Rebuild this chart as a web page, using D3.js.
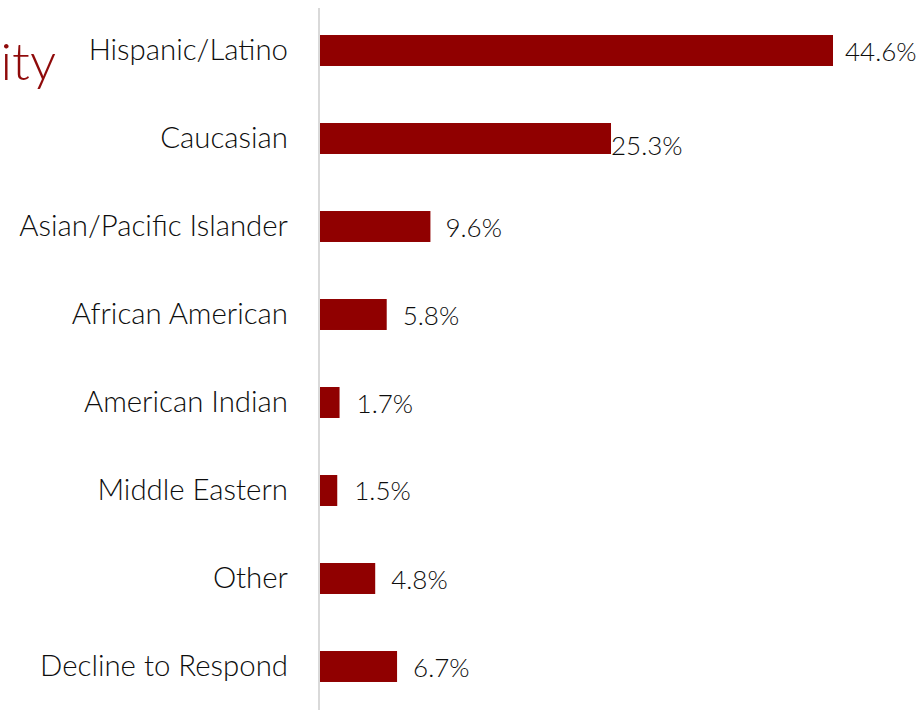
<!DOCTYPE html>
<html>
<head>
<meta charset="utf-8">
<script src="https://cdn.jsdelivr.net/npm/d3@7"></script>
<style>
  html, body { margin: 0; padding: 0; background: #fff; overflow: hidden; }
  svg { display: block; }
</style>
</head>
<body>
<svg id="chart" width="922" height="710"></svg>
<script>
// ---- data ----
const categories = ["Hispanic/Latino", "Caucasian", "Asian/Pacific Islander", "African American",
                    "American Indian", "Middle Eastern", "Other", "Decline to Respond"];
const values = [44.6, 25.3, 9.6, 5.8, 1.7, 1.5, 4.8, 6.7];
const valueLabels = ["44.6%", "25.3%", "9.6%", "5.8%", "1.7%", "1.5%", "4.8%", "6.7%"];
const titleText = "Ethnicity";

// ---- layout (label nudges, px) ----
const labelDx = [12, 0, 15, 16, 17, 17, 16, 16];
const labelDy = [1.5, 8, 2, 2, 2, 1, 2, 2];

const W = 922, H = 710;
const svg = d3.select("#chart");
const x0 = 320;
const x = d3.scaleLinear().domain([0, 44.6]).range([x0, 833]);
const y = d3.scaleBand().domain(categories).range([6.5, 710.5]).paddingInner(0.648).paddingOuter(0.324);

const barColor = "#900000";
const textColor = "#0d0d0d";
const font = "Lato, 'Open Sans', sans-serif";

// title fragment (cut off at left edge, as in the reference)
svg.append("text")
  .attr("x", 56).attr("y", 80)
  .attr("text-anchor", "end")
  .attr("font-family", font)
  .attr("font-size", 52)
  .attr("font-weight", 300)
  .attr("fill", "#8f0a0a")
  .text(titleText);

// bars
svg.append("g").selectAll("rect")
  .data(values)
  .join("rect")
  .attr("x", x(0))
  .attr("y", (d, i) => y(categories[i]))
  .attr("width", d => x(d) - x(0))
  .attr("height", y.bandwidth())
  .attr("fill", barColor);

// axis line
svg.append("line")
  .attr("x1", 319).attr("x2", 319)
  .attr("y1", 8).attr("y2", H)
  .attr("stroke", "#d9d9d9").attr("stroke-width", 2);

// category labels
svg.append("g").selectAll("text")
  .data(categories)
  .join("text")
  .attr("x", 288)
  .attr("y", d => y(d) + y.bandwidth() / 2)
  .attr("dy", "0.34em")
  .attr("text-anchor", "end")
  .attr("font-family", font)
  .attr("font-weight", 300)
  .attr("font-size", 29.4)
  .attr("fill", textColor)
  .text(d => d);

// value labels
svg.append("g").selectAll("text")
  .data(values)
  .join("text")
  .attr("x", (d, i) => x(d) + labelDx[i])
  .attr("y", (d, i) => y(categories[i]) + y.bandwidth() / 2 + labelDy[i])
  .attr("dy", "0.34em")
  .attr("font-family", font)
  .attr("font-weight", 300)
  .attr("font-size", 26)
  .attr("fill", textColor)
  .text((d, i) => valueLabels[i]);
</script>
</body>
</html>
